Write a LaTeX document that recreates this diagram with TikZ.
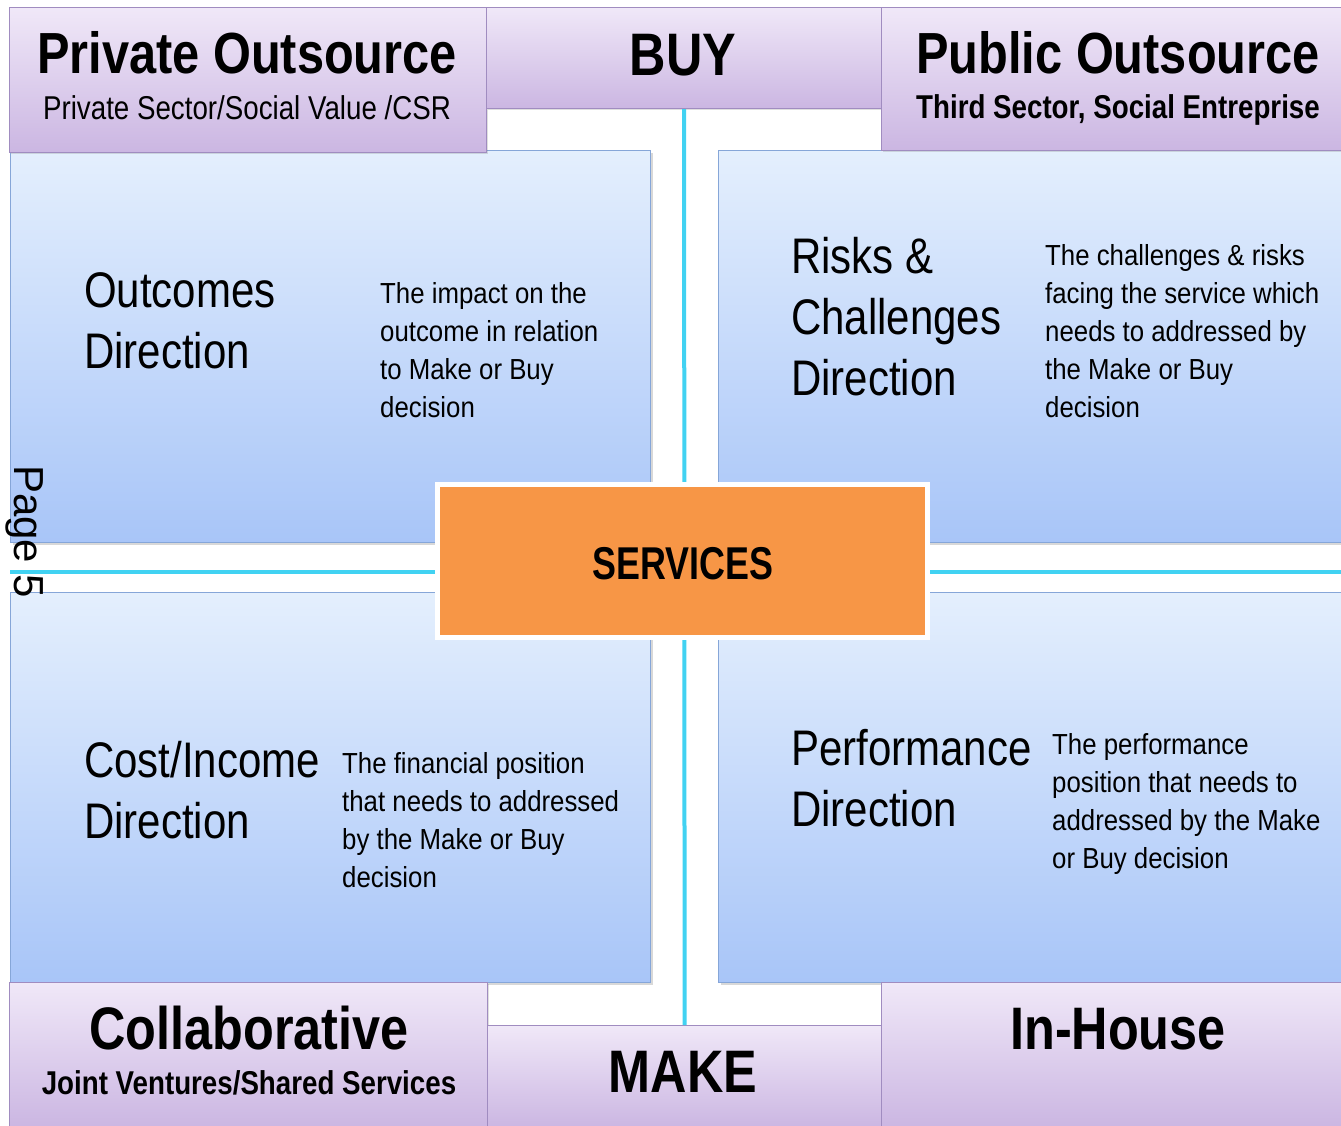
\documentclass[tikz,border=0pt]{standalone}
\usepackage{fontspec}
\setmainfont{Liberation Sans}
\newfontfamily\nar{Liberation Sans}[FakeStretch=0.84]
\newfontfamily\nsm{Liberation Sans}[FakeStretch=0.89]
\newfontfamily\nsv{Liberation Sans}[FakeStretch=0.78]
\usetikzlibrary{shadows}
\definecolor{ptop}{HTML}{F0E8F8}
\definecolor{pbot}{HTML}{CBB6E2}
\definecolor{pbrd}{HTML}{A08CC0}
\definecolor{btop}{HTML}{E4EFFD}
\definecolor{bbot}{HTML}{A8C5F8}
\definecolor{bbrd}{HTML}{86A6D8}
\definecolor{cyanl}{HTML}{41D2F2}
\definecolor{orng}{HTML}{F79646}
\tikzset{
  pbox/.style={draw=pbrd, line width=1.2pt, top color=ptop, bottom color=pbot, anchor=north west, inner sep=0pt,
     drop shadow={opacity=0.25, shadow xshift=1.5pt, shadow yshift=-1.5pt}},
  bbox/.style={draw=bbrd, line width=1.2pt, top color=btop, bottom color=bbot, anchor=north west, inner sep=0pt,
     drop shadow={opacity=0.3, shadow xshift=2pt, shadow yshift=-2pt}},
  head/.style={anchor=base, inner sep=0pt, font=\nar\bfseries\fontsize{58}{60}\selectfont},
  bighead/.style={anchor=base, inner sep=0pt, font=\nar\bfseries\fontsize{60}{64}\selectfont},
  subhead/.style={anchor=base, inner sep=0pt, font=\nar\fontsize{33}{36}\selectfont},
  subheadb/.style={anchor=base, inner sep=0pt, font=\nar\bfseries\fontsize{33}{36}\selectfont},
  dirtext/.style={anchor=base west, inner sep=0pt, font=\nar\fontsize{50}{61}\selectfont},
  desc/.style={anchor=base west, inner sep=0pt, font=\nsm\fontsize{29}{38}\selectfont},
  cyanline/.style={draw=cyanl, line width=4pt},
}
\begin{document}
\begin{tikzpicture}[x=1pt,y=-1pt]
\useasboundingbox[fill=white] (0,0) rectangle (1341,1125);
% connector lines
\coordinate (hl) at (10,572);
\coordinate (hr) at (1341,572);
% blue quadrants
\node[bbox, minimum width=640pt, minimum height=392pt] (tl) at (10,150) {};
\node[bbox, minimum width=625pt, minimum height=392pt] (tr) at (718,150) {};
\node[bbox, minimum width=640pt, minimum height=390pt] (bl) at (10,592) {};
\node[bbox, minimum width=625pt, minimum height=390pt] (br) at (718,592) {};
% purple boxes
\node[pbox, minimum width=477pt, minimum height=145pt] (po) at (9,7) {};
\node[pbox, minimum width=395pt, minimum height=101pt] (buy) at (486,7) {};
\node[pbox, minimum width=462pt, minimum height=143pt] (pub) at (881,7) {};
\node[pbox, minimum width=478pt, minimum height=145pt] (col) at (9,982) {};
\node[pbox, minimum width=394pt, minimum height=102pt] (make) at (487,1025) {};
\node[pbox, minimum width=462pt, minimum height=145pt] (inh) at (881,982) {};
% cyan lines
\draw[cyanline] (buy.south) -- (make.north);
\draw[cyanline] (hl) -- (hr);
% services
\node[draw=white, line width=5pt, fill=orng, minimum width=490pt, minimum height=153pt, inner sep=0pt,
      drop shadow={opacity=0.3, shadow xshift=2pt, shadow yshift=-2pt}] (srv) at (682.5,561) {};
\node[anchor=base, inner sep=0pt, font=\nsv\bfseries\fontsize{46}{50}\selectfont] (srvt) at (683,579) {SERVICES};
% headings
\node[head] (pot) at (247,73) {Private Outsource};
\node[subhead] (pos) at (247,119) {Private Sector/Social Value /CSR};
\node[bighead] (buyt) at (683,75) {BUY};
\node[head] (pubt) at (1118,73) {Public Outsource};
\node[subheadb] (pubs) at (1118,118) {Third Sector, Social Entreprise};
\node[bighead] (colt) at (249,1049) {Collaborative};
\node[subheadb] (cols) at (249,1094) {Joint Ventures/Shared Services};
\node[bighead] (maket) at (683,1092) {MAKE};
\node[bighead] (inht) at (1118,1049) {In-House};
% quadrant texts
\node[dirtext] (tld) at (84,307) {\begin{tabular}[t]{@{}l@{}}Outcomes\\Direction\end{tabular}};
\node[desc] (tlx) at (380,303) {\begin{tabular}[t]{@{}l@{}}The impact on the\\outcome in relation\\to Make or Buy\\decision\end{tabular}};
\node[dirtext] (trd) at (791,273) {\begin{tabular}[t]{@{}l@{}}Risks \&\\Challenges\\Direction\end{tabular}};
\node[desc] (trx) at (1045,265) {\begin{tabular}[t]{@{}l@{}}The challenges \& risks\\facing the service which\\needs to addressed by\\the Make or Buy\\decision\end{tabular}};
\node[dirtext] (bld) at (84,777) {\begin{tabular}[t]{@{}l@{}}Cost/Income\\Direction\end{tabular}};
\node[desc] (blx) at (342,773) {\begin{tabular}[t]{@{}l@{}}The financial position\\that needs to addressed\\by the Make or Buy\\decision\end{tabular}};
\node[dirtext] (brd) at (791,765) {\begin{tabular}[t]{@{}l@{}}Performance\\Direction\end{tabular}};
\node[desc] (brx) at (1052,754) {\begin{tabular}[t]{@{}l@{}}The performance\\position that needs to\\addressed by the Make\\or Buy decision\end{tabular}};
% page label
\node[anchor=base west, rotate=-90, inner sep=0pt, font=\fontsize{42}{46}\selectfont] (pg) at (14,465) {Page 5};
\end{tikzpicture}
\end{document}
